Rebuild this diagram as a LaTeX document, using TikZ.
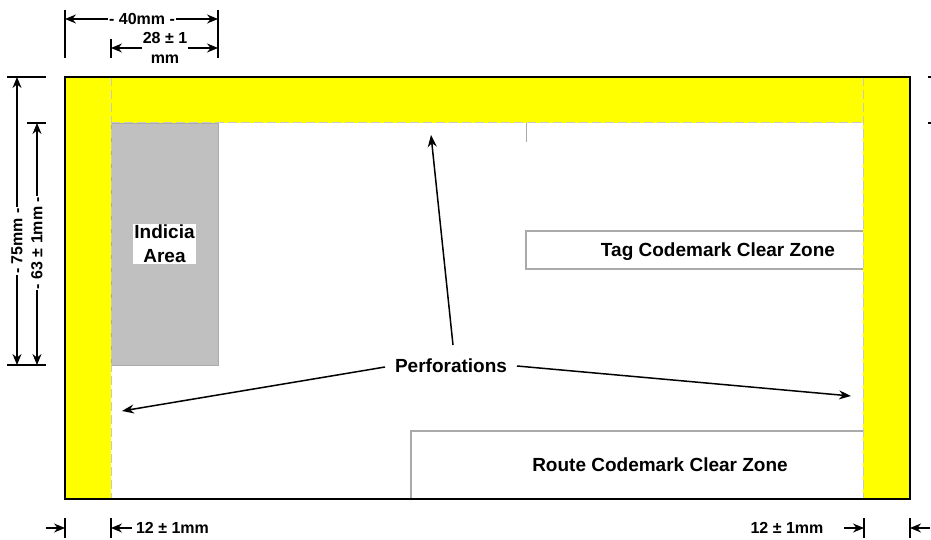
\documentclass[tikz,border=0pt]{standalone}
\usepackage{fontspec}
\setmainfont{Liberation Sans}
\usetikzlibrary{arrows.meta}
\definecolor{zoneg}{RGB}{170,170,170}
\definecolor{indicia}{RGB}{192,192,192}
\definecolor{perf}{RGB}{200,200,200}
\definecolor{pureyellow}{RGB}{255,255,0}
\tikzset{
  lab/.style={font=\bfseries\fontsize{16}{20}\selectfont,text=black,inner sep=1pt,align=center},
  biglab/.style={font=\bfseries\fontsize{19}{24}\selectfont,text=black,inner sep=1pt,align=center},
  dim/.style={line width=1.3pt,-{Stealth[length=11pt,width=9pt]}},
  ptr/.style={line width=1.5pt,-{Stealth[length=12pt,width=9pt]}},
  tick/.style={line width=1.1pt},
  zone/.style={draw=zoneg,line width=1.4pt,fill=white},
  perfline/.style={draw=perf,line width=1pt,dash pattern=on 9pt off 4pt}
}
\begin{document}
\begin{tikzpicture}[x=1pt,y=-1pt]
\useasboundingbox (0,0) rectangle (931,540);
% yellow border
\fill[pureyellow] (65,77) rectangle (910,499);
\fill[white] (111,123) rectangle (863,499);
% indicia
\node[draw=zoneg,line width=0.6pt,fill=indicia,minimum width=107pt,minimum height=242pt,inner sep=0pt,anchor=north west] (ind) at (111,123) {};
\node[biglab,fill=white,inner sep=1pt] (indt) at (164.5,244) {Indicia\\Area};
% clear zones
\draw[zone] (863,231) -- (526,231) -- (526,269) -- (863,269);
\node[biglab] (tag) at (718,252) {Tag Codemark Clear Zone};
\draw[zone] (411,499) -- (411,431) -- (863,431);
\node[biglab] (route) at (660,465) {Route Codemark Clear Zone};
\draw[draw=zoneg,line width=0.6pt] (526,123) -- (526,142);
% perforations
\draw[perfline] (111,77) -- (111,499);
\draw[perfline] (863,77) -- (863,499);
\draw[perfline] (111,123) -- (863,123);
% outer frame
\draw[line width=2.7pt,miter limit=10] (65,77) rectangle (910,499);
% perforation pointers
\node[biglab] (perf) at (451,366) {Perforations};
\coordinate (pl) at (122,411);
\coordinate (pt) at (431,135);
\coordinate (pr) at (851,396);
\coordinate (pls) at (385,367);
\coordinate (pts) at (453,345);
\coordinate (prs) at (517,366);
\draw[ptr] (pls) -- (pl);
\draw[ptr] (pts) -- (pt);
\draw[ptr] (prs) -- (pr);
% top dimensions
\coordinate (a1) at (65,10); \coordinate (a2) at (65,58);
\coordinate (b1) at (218,10); \coordinate (b2) at (218,58);
\coordinate (c1) at (111,39); \coordinate (c2) at (111,58);
\draw[tick] (a1) -- (a2);
\draw[tick] (b1) -- (b2);
\draw[tick] (c1) -- (c2);
\node[lab] (d40) at (142,19) {- 40mm -};
\coordinate (d40l) at (65,19); \coordinate (d40r) at (218,19);
\draw[dim] (d40.west) -- (d40l);
\draw[dim] (d40.east) -- (d40r);
\node[lab] (d28) at (165,48) {28 ± 1\\mm};
\coordinate (d28l) at (111,48); \coordinate (d28r) at (218,48);
\draw[dim] (d28.west) -- (d28l);
\draw[dim] (d28.east) -- (d28r);
% left dimensions
\coordinate (t1) at (7,77); \coordinate (t1e) at (46,77);
\coordinate (t2) at (27,123); \coordinate (t2e) at (46,123);
\coordinate (t3) at (7,365); \coordinate (t3e) at (46,365);
\draw[tick] (t1) -- (t1e);
\draw[tick] (t2) -- (t2e);
\draw[tick] (t3) -- (t3e);
\node[lab,rotate=90] (d75) at (17,241) {- 75mm -};
\coordinate (d75t) at (17,77); \coordinate (d75b) at (17,365);
\draw[dim] (d75.east) -- (d75t);
\draw[dim] (d75.west) -- (d75b);
\node[lab,rotate=90] (d63) at (37,243) {- 63 ± 1mm -};
\coordinate (d63t) at (37,123); \coordinate (d63b) at (37,365);
\draw[dim] (d63.east) -- (d63t);
\draw[dim] (d63.west) -- (d63b);
% bottom dimensions
\coordinate (e1) at (65,518); \coordinate (e1e) at (65,538);
\coordinate (e2) at (111,518); \coordinate (e2e) at (111,538);
\coordinate (e3) at (864,518); \coordinate (e3e) at (864,538);
\coordinate (e4) at (910,518); \coordinate (e4e) at (910,538);
\draw[tick] (e1) -- (e1e);
\draw[tick] (e2) -- (e2e);
\draw[tick] (e3) -- (e3e);
\draw[tick] (e4) -- (e4e);
\coordinate (f1) at (46,528); \coordinate (f1e) at (65,528);
\draw[dim] (f1) -- (f1e);
\node[lab,inner sep=4pt] (bl) at (172.5,528) {12 ± 1mm};
\coordinate (bla) at (111,528);
\draw[dim] (bl.west) -- (bla);
\node[lab] (br) at (787,528) {12 ± 1mm};
\coordinate (f3) at (844,528); \coordinate (f3e) at (864,528);
\draw[dim] (f3) -- (f3e);
\coordinate (f4) at (930,528); \coordinate (f4e) at (910,528);
\draw[dim] (f4) -- (f4e);
% edge ticks at right
\coordinate (g1) at (928,77); \coordinate (g1e) at (931,77);
\coordinate (g2) at (928,123); \coordinate (g2e) at (931,123);
\draw[tick] (g1) -- (g1e);
\draw[tick] (g2) -- (g2e);
\end{tikzpicture}
\end{document}
